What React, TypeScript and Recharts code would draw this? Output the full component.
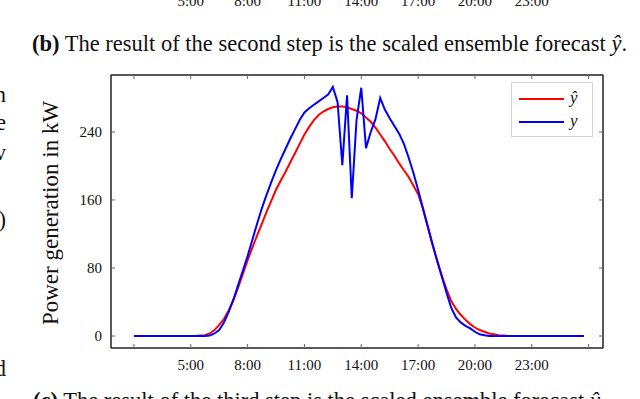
import { LineChart, Line, XAxis, YAxis, Legend } from 'recharts';

// quarter-hour slots starting at 2:00
const startHour = 2;
const slotHours = 0.25;

// scaled ensemble forecast (y hat), kW
const forecast = [
  0, 0, 0, 0, 0, 0, 0, 0, 0, 0, 0, 0, 0, 0,
  0.5, 1, 3, 7, 13, 20, 30, 42, 57, 73, 89, 104, 118, 132, 146, 159, 172, 183,
  193, 204, 215, 226, 237, 246, 254, 260, 264, 267, 269, 270, 270, 269, 267, 265,
  262, 257, 252, 245, 237, 229, 220, 212, 203, 195, 187, 177, 167, 150, 129, 108,
  89, 71, 55, 41, 32, 25, 19, 14, 10, 7, 5, 3, 2, 1, 0.5,
  0, 0, 0, 0, 0, 0, 0, 0, 0, 0, 0, 0, 0, 0, 0, 0, 0,
];

// measured generation (y), kW
const measured = [
  0, 0, 0, 0, 0, 0, 0, 0, 0, 0, 0, 0, 0, 0, 0, 0,
  0.5, 3, 7, 16, 28, 43, 60, 77, 94, 113, 132, 150, 166, 181, 195, 208,
  220, 232, 243, 254, 263, 268, 272, 276, 280, 284, 293, 275, 201, 283, 162, 254,
  292, 221, 240, 255, 280, 266, 256, 247, 238, 226, 210, 192, 172, 151, 130, 109,
  89, 70, 51, 33, 22, 16, 12, 9, 5, 2, 1,
  0, 0, 0, 0, 0, 0, 0, 0, 0, 0, 0, 0, 0, 0, 0, 0, 0, 0, 0, 0, 0,
];

const seriesNames = ['\u0177', 'y'];
const hourTicks = [2, 5, 8, 11, 14, 17, 20, 23, 26];
const hourLabels = ['', '5:00', '8:00', '11:00', '14:00', '17:00', '20:00', '23:00', ''];
const powerTicks = [0, 80, 160, 240];

const data = forecast.map((v, i) => ({
  hour: startHour + i * slotHours,
  yhat: v,
  y: measured[i],
}));

const serif = '"Liberation Serif", "DejaVu Serif", serif';
const xDomain = [0.79, 26.76];
const yDomain = [-14.1, 307];

// plot box in page pixels, used for the cut-off axis of the panel above
const plotLeft = 111;
const plotRight = 603;
const toPx = (h: number) => plotLeft + ((h - xDomain[0]) / (xDomain[1] - xDomain[0])) * (plotRight - plotLeft);

const fmtHour = (v: number) => hourLabels[hourTicks.indexOf(v)] ?? '';

const frameLine = { stroke: '#222', strokeWidth: 1.5 };
const tickMark = { stroke: '#666' };

const LegendBox = ({ payload }: any) => {
  const items = [...(payload || [])].sort(
    (a: any, b: any) => seriesNames.indexOf(a.value) - seriesNames.indexOf(b.value)
  );
  return (
    <div
      style={{
        position: 'relative',
        width: 82,
        height: 55,
        boxSizing: 'border-box',
        border: '1px solid #d4d4d4',
        background: '#fff',
      }}
    >
      {items.map((entry: any, i: number) => (
        <div key={entry.value}>
          <div
            style={{
              position: 'absolute',
              left: 7,
              top: 15 + i * 23,
              width: 45,
              height: 2,
              background: entry.color,
            }}
          />
          <div
            style={{
              position: 'absolute',
              left: 58,
              top: 5 + i * 23,
              fontFamily: serif,
              fontStyle: 'italic',
              fontSize: 17,
              lineHeight: '20px',
              color: '#111',
            }}
          >
            {entry.value}
          </div>
        </div>
      ))}
    </div>
  );
};

const sideFragments = [
  { text: 'n', baseline: 103 },
  { text: 'e', baseline: 131 },
  { text: 'v', baseline: 161 },
  { text: ')', baseline: 228 },
  { text: 'd', baseline: 377 },
];

export default function App() {
  const capSize = 22.5;
  return (
    <div
      style={{
        position: 'absolute',
        left: 0,
        top: 0,
        width: 640,
        height: 399,
        overflow: 'hidden',
        background: '#fff',
        fontFamily: serif,
        color: '#111',
      }}
    >
      {/* bottom of the tick labels of the panel above */}
      {hourLabels.map((lab, i) =>
        lab ? (
          <div
            key={lab}
            style={{
              position: 'absolute',
              left: toPx(hourTicks[i]),
              top: -6,
              transform: 'translateX(-50%)',
              fontSize: 15,
              lineHeight: '15px',
            }}
          >
            {lab}
          </div>
        ) : null
      )}

      <div
        style={{
          position: 'absolute',
          left: 32,
          top: 32.7,
          fontSize: capSize,
          lineHeight: 1,
          whiteSpace: 'nowrap',
        }}
      >
        <b>(b)</b> The result of the second step is the scaled ensemble forecast{' '}
        <i>{'\u0177'}</i>.
      </div>

      {sideFragments.map((f) => (
        <div
          key={f.text}
          style={{
            position: 'absolute',
            right: 634,
            top: f.baseline - 0.8375 * capSize,
            fontSize: capSize,
            lineHeight: 1,
          }}
        >
          {f.text}
        </div>
      ))}

      <div
        style={{
          position: 'absolute',
          left: 50,
          top: 213,
          transform: 'translate(-50%, -50%) rotate(-90deg)',
          fontSize: 23,
          lineHeight: 1,
          whiteSpace: 'nowrap',
        }}
      >
        Power generation in kW
      </div>

      <div
        style={{
          position: 'absolute',
          left: 33,
          top: 390,
          fontSize: capSize,
          lineHeight: 1,
          whiteSpace: 'nowrap',
        }}
      >
        <b>(c)</b> The result of the third step is the scaled ensemble forecast{' '}
        <i>{'\u0177'}</i>
      </div>

      <div style={{ position: 'absolute', left: 0, top: 0 }}>
        <LineChart
          width={640}
          height={399}
          data={data}
          margin={{ top: 74, right: 36, bottom: 50, left: 110 }}
        >
          <XAxis
            type="number"
            dataKey="hour"
            domain={xDomain}
            allowDataOverflow
            ticks={hourTicks}
            interval={0}
            tickFormatter={fmtHour}
            height={1}
            tickSize={-4}
            tickMargin={15}
            axisLine={frameLine}
            tickLine={tickMark}
            tick={{ fill: '#111', fontSize: 15, fontFamily: serif }}
          />
          <XAxis
            xAxisId="top"
            orientation="top"
            type="number"
            dataKey="hour"
            domain={xDomain}
            allowDataOverflow
            ticks={hourTicks}
            interval={0}
            tickFormatter={() => ''}
            height={1}
            tickSize={-4}
            axisLine={frameLine}
            tickLine={tickMark}
          />
          <YAxis
            type="number"
            domain={yDomain}
            allowDataOverflow
            ticks={powerTicks}
            interval={0}
            width={1}
            tickSize={-4}
            tickMargin={13}
            axisLine={frameLine}
            tickLine={tickMark}
            tick={{ fill: '#111', fontSize: 15, fontFamily: serif }}
          />
          <YAxis
            yAxisId="right"
            orientation="right"
            type="number"
            domain={yDomain}
            allowDataOverflow
            ticks={powerTicks}
            interval={0}
            width={1}
            tickSize={-4}
            tickFormatter={() => ''}
            axisLine={frameLine}
            tickLine={tickMark}
          />
          <Legend
            layout="horizontal"
            verticalAlign="middle"
            align="center"
            content={<LegendBox />}
            wrapperStyle={{ position: 'absolute', left: 511, top: 82, width: 82, height: 55 }}
          />
          <Line
            name={seriesNames[0]}
            dataKey="yhat"
            type="linear"
            stroke="#ff0000"
            strokeWidth={2}
            dot={false}
            isAnimationActive={false}
          />
          <Line
            name={seriesNames[1]}
            dataKey="y"
            type="linear"
            stroke="#0000ff"
            strokeWidth={2}
            dot={false}
            isAnimationActive={false}
          />
        </LineChart>
      </div>
    </div>
  );
}
